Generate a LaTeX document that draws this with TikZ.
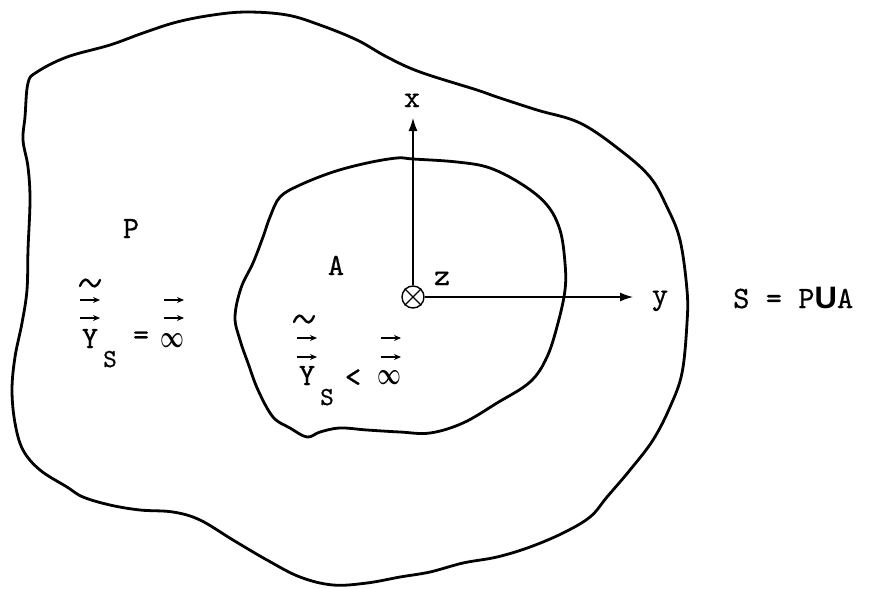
\documentclass[tikz,border=0pt]{standalone}
\usepackage{fontspec}
\setmonofont{lmmono10-regular.otf}[FakeBold=0.6]
\newfontfamily\bsans{Liberation Sans}
\usetikzlibrary{arrows.meta}
\newcommand{\myinf}{\scalebox{1}[1.5]{$\infty$}}
\begin{document}
\begin{tikzpicture}[x=1pt,y=-1pt,
  outline/.style={line width=2.8pt, line join=round},
  axis/.style={line width=1.3pt, -{Latex[length=13pt,width=9pt]}},
  lbl/.style={inner sep=0pt, font=\ttfamily\fontsize{31}{33}\selectfont, anchor=base},
  sub/.style={inner sep=0pt, font=\ttfamily\fontsize{26}{28}\selectfont, anchor=base},
  infs/.style={inner sep=0pt, font=\boldmath\fontsize{20}{22}\selectfont, anchor=center},
  arracc/.pic={\draw[line width=1.2pt,-{Stealth[length=7pt,width=6pt]}] (-10,0) -- (10,0);},
  tildeacc/.pic={\draw[line width=2.4pt,line cap=round] (-10,3) .. controls (-6,-6) and (-3,-4) .. (0,0) .. controls (3,4) and (6,6) .. (10,-3);}
]
\useasboundingbox (0,0) rectangle (873,589);
% outer region S
\draw[outline] plot[smooth cycle, tension=0.6] coordinates {
 (28,83) (37,72) (67,57) (110,45) (143,33) (177,22) (213,15) (247,12) (287,15)
 (320,25) (357,40) (387,57) (420,72) (477,90) (497,97) (537,110) (580,123)
 (620,150) (650,177) (667,207) (680,240) (687,290) (687,323) (682,373) (670,407)
 (653,440) (630,470) (607,497) (590,517) (563,533) (530,547) (497,557) (463,563)
 (430,572) (400,577) (367,583) (333,585) (300,577) (267,560) (233,540) (200,520)
 (173,512) (140,510) (110,505) (83,497) (67,487) (40,470) (23,450) (15,423)
 (12,390) (15,357) (22,323) (27,290) (28,250) (30,200) (28,167) (23,140) (25,117)};
% inner region A
\draw[outline] plot[smooth cycle, tension=0.6] coordinates {
 (397,158) (413,159) (457,162) (490,168) (523,185) (547,205) (560,230) (565,263)
 (565,290) (558,323) (547,357) (530,382) (497,403) (463,423) (430,433) (400,432)
 (367,430) (340,428) (320,432) (307,437) (290,428) (273,417) (258,390) (248,363)
 (240,340) (235,317) (241,288) (253,263) (263,237) (270,217) (280,197) (300,185)
 (333,172) (367,163)};
% origin and axes
\node[draw, circle, line width=1.4pt, minimum size=22pt, inner sep=0pt] (o) at (413,297) {};
\draw[line width=1.4pt] (o.45) -- (o.225) (o.135) -- (o.-45);
\coordinate (xtip) at (413,118);
\coordinate (ytip) at (633,297);
\draw[axis] (o) -- (xtip);
\draw[axis] (o) -- (ytip);
\node[lbl] (xl) at (412,107) {x};
\node[lbl] (zl) at (442,285) {z};
\node[lbl] (yl) at (660,304) {y};
% region labels
\node[lbl] (P) at (131,238) {P};
\node[lbl] (A) at (336,275) {A};
% left formula
\node[lbl] (Y1) at (90,348) {Y};
\node[sub] (s1) at (110,367) {S};
\node[lbl, anchor=center] (eq1) at (141,338) {=};
\node[infs] (inf1) at (172,341) {\myinf};
\pic at (90,283) {tildeacc};
\pic at (90,300) {arracc};
\pic at (90,318) {arracc};
\pic at (174,300) {arracc};
\pic at (174,318) {arracc};
% inner formula
\node[lbl] (Y2) at (307,385) {Y};
\node[sub] (s2) at (327,405) {S};
\node[lbl, anchor=center] (lt) at (353,378) {<};
\node[infs] (inf2) at (389,378) {\myinf};
\pic at (304,319) {tildeacc};
\pic at (307,338) {arracc};
\pic at (307,357) {arracc};
\pic at (391,338) {arracc};
\pic at (391,357) {arracc};
% union label
\node[lbl, anchor=base west] (S) at (733,308) {S = P{\bsans\bfseries U}A};
\end{tikzpicture}
\end{document}
